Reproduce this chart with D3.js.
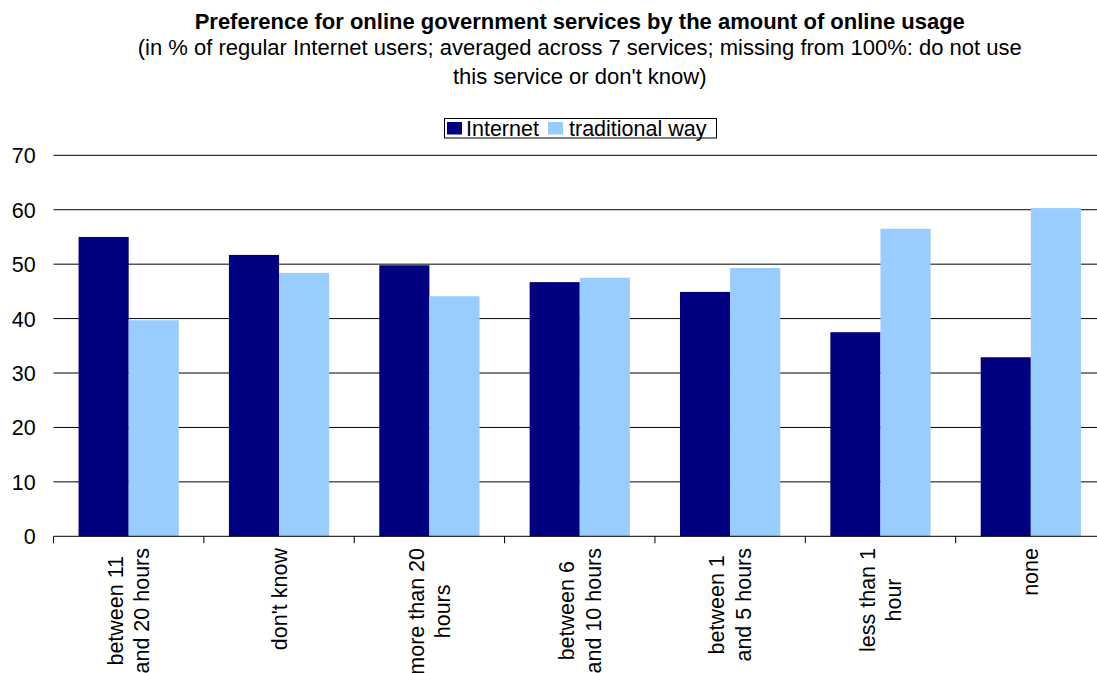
<!DOCTYPE html>
<html>
<head>
<meta charset="utf-8">
<script src="https://cdn.jsdelivr.net/npm/d3@7"></script>
<style>
  html, body { margin: 0; padding: 0; background: #fff; }
  svg { display: block; font-family: "Liberation Sans", Arial, sans-serif; }
</style>
</head>
<body>
<svg id="chart" width="1097" height="673"></svg>
<script>
// Categories (line breaks mark where the axis label wraps)
const categories = [
  "between 11\nand 20 hours",
  "don't know",
  "more than 20\nhours",
  "between 6\nand 10 hours",
  "between 1\nand 5 hours",
  "less than 1\nhour",
  "none"
];
const seriesNames = ["Internet", "traditional way"];
const internetValues = [55.0, 51.7, 49.8, 46.7, 44.9, 37.5, 32.9];
const traditionalValues = [39.7, 48.4, 44.1, 47.5, 49.3, 56.5, 60.3];
const yTicks = [0, 10, 20, 30, 40, 50, 60, 70];

const titleText = "Preference for online government services by the amount of online usage";
const subtitleLines = [
  "(in % of regular Internet users; averaged across 7 services; missing from 100%: do not use",
  "this service or don't know)"
];

const colors = { "Internet": "#000080", "traditional way": "#99CCFF" };

const svg = d3.select("#chart");
const plot = { left: 53.5, right: 1106, top: 155.3, bottom: 536.3 };
const fontSize = 21.5;

const x = d3.scaleBand()
  .domain(categories)
  .range([plot.left, plot.right])
  .paddingInner(1 / 3)
  .paddingOuter(1 / 6);

const xInner = d3.scaleBand()
  .domain(seriesNames)
  .range([0, x.bandwidth()]);

const y = d3.scaleLinear()
  .domain([0, 70])
  .range([plot.bottom, plot.top]);

// Horizontal gridlines
svg.append("g")
  .selectAll("line")
  .data(yTicks.filter(d => d > 0))
  .join("line")
  .attr("x1", plot.left)
  .attr("x2", plot.right)
  .attr("y1", d => y(d))
  .attr("y2", d => y(d))
  .attr("stroke", "#000")
  .attr("stroke-width", 1);

// Y-axis labels
const yAxis = d3.axisLeft(y).tickValues(yTicks).tickSize(0).tickPadding(0);
svg.append("g")
  .attr("transform", `translate(${35.7},0)`)
  .call(yAxis)
  .call(g => g.select(".domain").remove())
  .call(g => g.selectAll("text")
    .attr("font-family", "Liberation Sans, Arial, sans-serif")
    .attr("font-size", fontSize)
    .attr("fill", "#000")
    .attr("dy", "0.35em"));

// Bars
const rows = categories.map((c, i) => ({
  category: c,
  values: [
    { key: "Internet", value: internetValues[i] },
    { key: "traditional way", value: traditionalValues[i] }
  ]
}));

svg.append("g")
  .selectAll("g")
  .data(rows)
  .join("g")
  .attr("transform", d => `translate(${x(d.category)},0)`)
  .selectAll("rect")
  .data(d => d.values)
  .join("rect")
  .attr("x", d => xInner(d.key))
  .attr("width", xInner.bandwidth())
  .attr("y", d => y(d.value))
  .attr("height", d => y(0) - y(d.value))
  .attr("fill", d => colors[d.key]);

// Category axis line and boundary ticks
const step = x.step();
const boundaries = d3.range(categories.length + 1).map(i => plot.left + i * step);
svg.append("line")
  .attr("x1", plot.left).attr("x2", plot.right)
  .attr("y1", y(0)).attr("y2", y(0))
  .attr("stroke", "#000").attr("stroke-width", 1);
svg.append("g")
  .selectAll("line")
  .data(boundaries)
  .join("line")
  .attr("x1", d => d).attr("x2", d => d)
  .attr("y1", y(0)).attr("y2", y(0) + 7)
  .attr("stroke", "#000").attr("stroke-width", 1);

// Rotated category labels
const labelTop = 548;
const lineGap = 26.6;
const labelGroups = svg.append("g")
  .selectAll("g")
  .data(categories)
  .join("g")
  .attr("transform", d => `translate(${x(d) + x.bandwidth() / 2},${labelTop}) rotate(-90)`);

labelGroups.each(function (d) {
  const g = d3.select(this);
  const lines = d.split("\n");
  const texts = g.selectAll("text")
    .data(lines)
    .join("text")
    .attr("text-anchor", "middle")
    .attr("font-size", fontSize)
    .attr("fill", "#000")
    .attr("dy", "0.35em")
    .attr("y", (t, i) => (i - (lines.length - 1) / 2) * lineGap)
    .text(t => t);
  let maxLen = 0;
  texts.each(function () { maxLen = Math.max(maxLen, this.getComputedTextLength()); });
  texts.attr("x", -maxLen / 2);
});

// Title and subtitle
const cx = (plot.left + plot.right) / 2;
svg.append("text")
  .attr("x", cx).attr("y", 29)
  .attr("text-anchor", "middle")
  .attr("font-size", 22)
  .attr("font-weight", "bold")
  .attr("fill", "#000")
  .text(titleText);

svg.append("g")
  .selectAll("text")
  .data(subtitleLines)
  .join("text")
  .attr("x", cx)
  .attr("y", (d, i) => 55 + i * 28.5)
  .attr("text-anchor", "middle")
  .attr("font-size", 22)
  .attr("fill", "#000")
  .text(d => d);

// Legend
const legend = svg.append("g");
legend.append("rect")
  .attr("x", 444.5).attr("y", 118.5)
  .attr("width", 272).attr("height", 19.5)
  .attr("fill", "#fff")
  .attr("stroke", "#000").attr("stroke-width", 1);

const legendItems = [
  { key: seriesNames[0], sx: 447, tx: 466 },
  { key: seriesNames[1], sx: 548, tx: 569 }
];
legend.selectAll("rect.swatch")
  .data(legendItems)
  .join("rect")
  .attr("class", "swatch")
  .attr("x", d => d.sx).attr("y", 122)
  .attr("width", 15).attr("height", 12.5)
  .attr("fill", d => colors[d.key]);
legend.selectAll("text")
  .data(legendItems)
  .join("text")
  .attr("x", d => d.tx).attr("y", 128.5)
  .attr("dy", "0.35em")
  .attr("font-size", fontSize)
  .attr("fill", "#000")
  .text(d => d.key);
</script>
</body>
</html>
